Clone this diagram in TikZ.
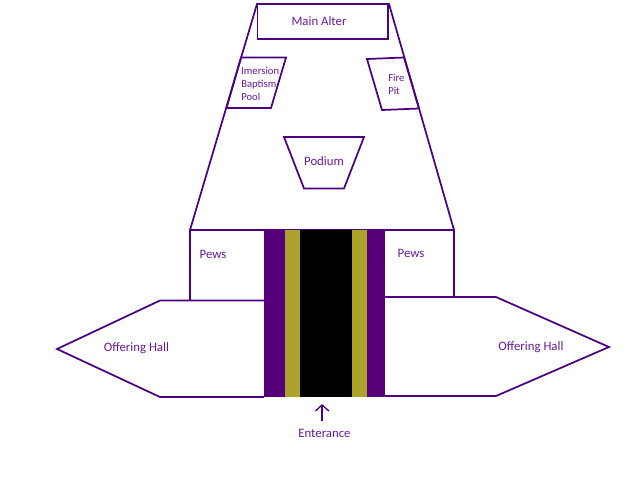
\documentclass[tikz,border=0pt]{standalone}
\usepackage{fontspec}
\setmainfont{Carlito}
\definecolor{ln}{HTML}{4B0082}
\definecolor{tx}{HTML}{6A1B9A}
\definecolor{band}{HTML}{55007A}
\definecolor{gold}{HTML}{ADA32B}
\tikzset{
  x=0.75pt,y=-0.75pt,
  wall/.style={draw=ln,line width=1.3pt,line join=miter},
  lbl/.style={text=tx,font=\fontsize{9.6}{11.6}\selectfont,inner sep=0pt},
  small/.style={text=tx,font=\fontsize{8}{9.9}\selectfont,inner sep=0pt,align=left}
}
\begin{document}
\begin{tikzpicture}
\useasboundingbox (0,0) rectangle (640,480);
\fill[white] (0,0) rectangle (640,480);
% nave
\draw[wall] (190,230) -- (257,4) -- (389,4) -- (454,230) -- cycle;
\draw[wall] (257.5,4) rectangle (388,39);
\draw[wall] (241,57.5) -- (286,57.5) -- (271,108) -- (226.5,108) -- cycle;
\draw[wall] (367,59) -- (404,57.5) -- (419,108.5) -- (382,110) -- cycle;
\draw[wall] (284,137) -- (364,137) -- (344,188.5) -- (304,188.5) -- cycle;
% pews
\draw[wall] (190,230) -- (190,300.5);
\draw[wall] (454,230) -- (454,297);
% offering halls
\draw[wall] (264,300.5) -- (160,300.5) -- (57,349) -- (160,397) -- (264,397);
\draw[wall] (384,297) -- (496,297) -- (609,347) -- (496,396) -- (384,396);
% aisle
\fill[band] (264,230) rectangle (385,397);
\fill[gold] (285,230) rectangle (367,397);
\fill[black] (300,230) rectangle (352,397);
% labels
\node[lbl] (alter) at (319,21) {Main Alter};
\node[small,anchor=west] (pool) at (241,84) {Imersion\\Baptism\\Pool};
\node[small,anchor=west] (fire) at (388,84) {Fire\\Pit};
\node[lbl] (podium) at (324,161) {Podium};
\node[lbl] (pewsl) at (213,254) {Pews};
\node[lbl] (pewsr) at (411,253) {Pews};
\node[lbl] (halll) at (136.5,348) {Offering Hall};
\node[lbl] (hallr) at (531,347) {Offering Hall};
\node[lbl] (ent) at (324.5,433) {Enterance};
\coordinate (tip) at (322,405);
\coordinate (tail) at (322,421);
\draw[wall,line width=1pt] (tail) -- (tip);
\draw[wall,line width=1pt] (315.5,411) -- (tip) -- (329,411);
\end{tikzpicture}
\end{document}
